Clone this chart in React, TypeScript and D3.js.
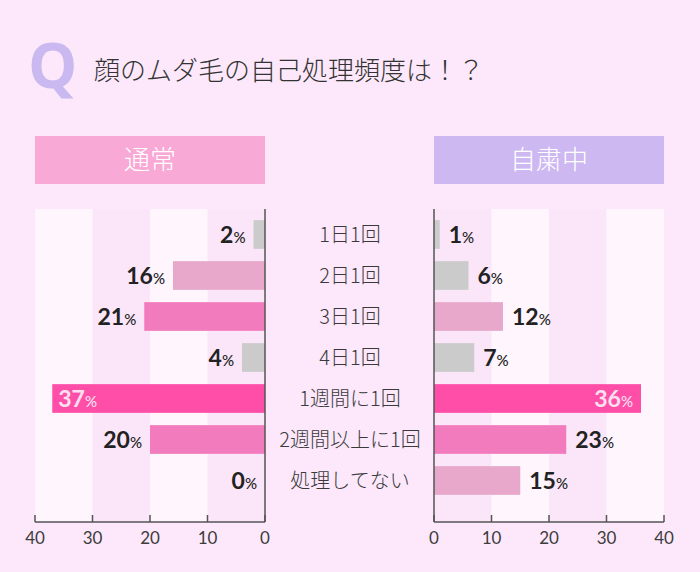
import * as d3 from "d3";
import React from "react";

// 顔のムダ毛の自己処理頻度
const categories = ["1日1回", "2日1回", "3日1回", "4日1回", "1週間に1回", "2週間以上に1回", "処理してない"];
const normalValues = [2, 16, 21, 4, 37, 20, 0];
const stayHomeValues = [1, 6, 12, 7, 36, 23, 15];
const ticks = [0, 10, 20, 30, 40];

const W = 700;
const H = 572;
const BG = "#fce8fa";
const numFont = "Lato, 'Open Sans', sans-serif";
const jpFont = "'Noto Sans CJK JP', 'Noto Sans', sans-serif";

// colour by value bucket (same shades as the picture)
const barColor = (v: number) => {
  if (v >= 30) return "#ff4ea8";
  if (v >= 17) return "#f27bbd";
  if (v >= 10) return "#e8a8cb";
  return "#cbcbcb";
};

export default function App() {
  const xLeft = d3.scaleLinear().domain([0, 40]).range([265, 35]);
  const xRight = d3.scaleLinear().domain([0, 40]).range([434, 664]);
  const y = d3.scaleBand<string>().domain(categories).range([214, 501]).paddingInner(0.3).paddingOuter(0.15);
  const top = 209;
  const base = 522;

  const bands = (x: d3.ScaleLinear<number, number>) =>
    d3.range(4).map((i) => {
      const a = x(i * 10), b = x(i * 10 + 10);
      const light = i % 2 === 1;
      return (
        <rect key={i} x={Math.min(a, b)} y={top} width={Math.abs(b - a)} height={base - top}
          fill={light ? "#fef5fd" : "#fbe6f9"} />
      );
    });

  const pct = (v: number) => (
    <>
      {v}
      <tspan fontSize={15} fontWeight={500}>%</tspan>
    </>
  );

  const axis = (x: d3.ScaleLinear<number, number>) => (
    <g>
      <line x1={x(0)} x2={x(40)} y1={base} y2={base} stroke="#555" strokeWidth={1.5} />
      <line x1={x(0)} x2={x(0)} y1={top} y2={base} stroke="#555" strokeWidth={1.5} />
      {ticks.map((t) => (
        <g key={t}>
          <line x1={x(t)} x2={x(t)} y1={base - 7} y2={base} stroke="#555" strokeWidth={1.5} />
          <text x={x(t)} y={base + 22} textAnchor="middle" fontSize={17} fill="#3c3c3c"
            fontFamily={numFont} fontWeight={400}>{t}</text>
        </g>
      ))}
    </g>
  );

  return (
    <svg width={W} height={H} style={{ position: "absolute", left: 0, top: 0 }}>
      <rect width={W} height={H} fill={BG} />
      {/* title */}
      <text x={28} y={88} fontSize={62} fontWeight={700} fill="#c9b9f0" fontFamily="'Open Sans', sans-serif">Q</text>
      <text x={94} y={80} fontSize={26} fill="#333" fontFamily={jpFont} fontWeight={300}>顔のムダ毛の自己処理頻度は！？</text>

      {/* headers */}
      <rect x={35} y={136} width={230} height={48} fill="#f8a9d6" />
      <text x={150} y={169} textAnchor="middle" fontSize={26} fill="#fff" fontFamily={jpFont} fontWeight={300}>通常</text>
      <rect x={434} y={136} width={230} height={48} fill="#cdb8f2" />
      <text x={549} y={169} textAnchor="middle" fontSize={26} fill="#fff" fontFamily={jpFont} fontWeight={300}>自粛中</text>

      {bands(xLeft)}
      {bands(xRight)}

      {/* left bars */}
      {normalValues.map((v, i) => {
        const c = categories[i];
        const yy = y(c)!;
        const bh = y.bandwidth();
        const inside = v >= 30;
        return (
          <g key={"l" + c}>
            {v > 0 && <rect x={xLeft(v)} y={yy} width={xLeft(0) - xLeft(v)} height={bh} fill={barColor(v)} />}
            <text x={inside ? xLeft(v) + 6 : xLeft(v) - 8} y={yy + bh / 2 + 8}
              textAnchor={inside ? "start" : "end"} fontSize={23} fontWeight={700}
              fill={inside ? "#fbe0f0" : "#222"} fontFamily={numFont}>{pct(v)}</text>
          </g>
        );
      })}

      {/* right bars */}
      {stayHomeValues.map((v, i) => {
        const c = categories[i];
        const yy = y(c)!;
        const bh = y.bandwidth();
        const inside = v >= 30;
        return (
          <g key={"r" + c}>
            <rect x={xRight(0)} y={yy} width={xRight(v) - xRight(0)} height={bh} fill={barColor(v)} />
            <text x={inside ? xRight(v) - 8 : xRight(v) + 9} y={yy + bh / 2 + 8}
              textAnchor={inside ? "end" : "start"} fontSize={23} fontWeight={700}
              fill={inside ? "#fbe0f0" : "#222"} fontFamily={numFont}>{pct(v)}</text>
          </g>
        );
      })}

      {axis(xLeft)}
      {axis(xRight)}

      {/* category labels */}
      {categories.map((c) => (
        <text key={c} x={350} y={y(c)! + y.bandwidth() / 2 + 7} textAnchor="middle" fontSize={20}
          fill="#3a3a3a" fontFamily={jpFont} fontWeight={300}>{c}</text>
      ))}
    </svg>
  );
}
